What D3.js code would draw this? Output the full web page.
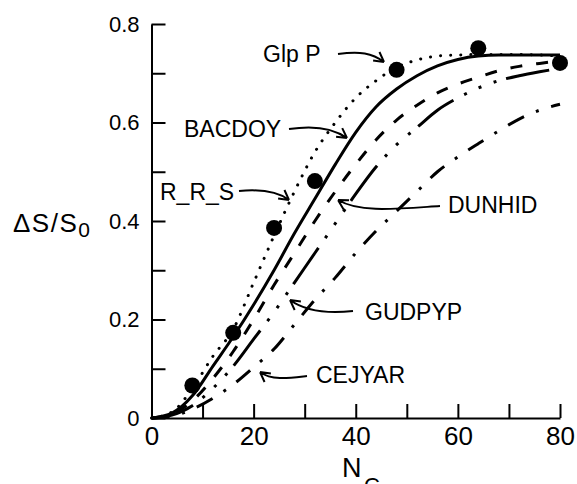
<!DOCTYPE html>
<html>
<head>
<meta charset="utf-8">
<script src="https://cdn.jsdelivr.net/npm/d3@7"></script>
<style>
  body { margin: 0; background: #fff; }
  svg { display: block; font-family: "Liberation Sans", Arial, Helvetica, sans-serif; }
  .axis path, .axis line { stroke: #000; stroke-width: 2; }
  .axis text { fill: #000; }
  .curve { fill: none; stroke: #000; stroke-width: 3; }
  .arrow { fill: none; stroke: #000; stroke-width: 2; }
  .lbl { font-size: 23px; fill: #000; }
</style>
</head>
<body>
<script>
// N_C grid shared by all model curves
var nGrid = [0, 4, 8, 12, 16, 20, 24, 28, 32, 36, 40, 44, 48, 52, 56, 60, 64, 68, 72, 76, 80];

// model curves (ΔS/S0 at each nGrid point)
var rrsVals    = [0, 0.012, 0.06, 0.125, 0.18, 0.275, 0.37, 0.46, 0.54, 0.6, 0.65, 0.685, 0.712, 0.727, 0.735, 0.737, 0.738, 0.738, 0.738, 0.737, 0.735];
var bacdoyVals = [0, 0.01, 0.045, 0.105, 0.165, 0.23, 0.3, 0.375, 0.445, 0.515, 0.58, 0.632, 0.668, 0.695, 0.715, 0.728, 0.735, 0.737, 0.737, 0.737, 0.737];
var dunhidVals = [0, 0.008, 0.035, 0.08, 0.135, 0.2, 0.27, 0.335, 0.4, 0.46, 0.515, 0.565, 0.605, 0.635, 0.66, 0.678, 0.692, 0.705, 0.714, 0.72, 0.725];
var gudpypVals = [0, 0.006, 0.025, 0.06, 0.105, 0.16, 0.215, 0.275, 0.335, 0.395, 0.455, 0.51, 0.555, 0.59, 0.625, 0.65, 0.67, 0.685, 0.695, 0.703, 0.71];
var cejyarVals = [0, 0.004, 0.018, 0.04, 0.068, 0.103, 0.14, 0.19, 0.24, 0.285, 0.335, 0.38, 0.42, 0.46, 0.5, 0.53, 0.557, 0.583, 0.607, 0.625, 0.637];

// Glp P measured points
var glpN = [8, 16, 24, 32, 48, 64, 80];
var glpVals = [0.066, 0.173, 0.386, 0.481, 0.707, 0.751, 0.721];

var xTicks = [0, 10, 20, 30, 40, 50, 60, 70, 80];
var yTicks = [0, 0.1, 0.2, 0.3, 0.4, 0.5, 0.6, 0.7, 0.8];

var W = 577, H = 484;
var svg = d3.select("body").append("svg").attr("width", W).attr("height", H);

var x = d3.scaleLinear().domain([0, 80]).range([151.5, 560]);
var y = d3.scaleLinear().domain([0, 0.8]).range([418, 24]);

// axes: ticks point inward, labels only on every other tick
svg.append("g").attr("class", "axis").attr("transform", "translate(0,418)")
  .call(d3.axisBottom(x).tickValues(xTicks).tickSizeInner(-14).tickSizeOuter(0).tickPadding(9)
    .tickFormat(function (d) { return d % 20 === 0 ? d : ""; }))
  .call(function (g) { g.selectAll("text").attr("font-size", 26).attr("font-family", null); });

svg.append("g").attr("class", "axis").attr("transform", "translate(151.5,0)")
  .call(d3.axisLeft(y).tickValues(yTicks).tickSizeInner(-14).tickSizeOuter(0).tickPadding(12)
    .tickFormat(function (d) { var k = Math.round(d * 10); return k % 2 ? "" : (k === 0 ? "0" : d3.format(".1f")(d)); }))
  .call(function (g) { g.selectAll("text").attr("font-size", 22).attr("font-family", null); });

// curves
var line = d3.line().x(function (d) { return x(d[0]); }).y(function (d) { return y(d[1]); }).curve(d3.curveMonotoneX);
function series(vals) { return nGrid.map(function (n, i) { return [n, vals[i]]; }); }

var curves = [
  { vals: cejyarVals, dash: "18 13 3 13", cap: "butt", w: 3 },
  { vals: gudpypVals, dash: "44 12 3 13 3 13 3 10", cap: "butt", w: 3 },
  { vals: dunhidVals, dash: "12 14", cap: "butt", w: 3 },
  { vals: bacdoyVals, dash: null, cap: "butt", w: 3 },
  { vals: rrsVals, dash: "0.1 10", cap: "round", w: 3.6 }
];
curves.forEach(function (c) {
  svg.append("path").attr("class", "curve").attr("d", line(series(c.vals)))
    .attr("stroke-dasharray", c.dash).attr("stroke-linecap", c.cap).attr("stroke-width", c.w);
});

// data points
svg.append("g").selectAll("circle").data(glpN).join("circle")
  .attr("cx", function (d) { return x(d); })
  .attr("cy", function (d, i) { return y(glpVals[i]); })
  .attr("r", 8).attr("fill", "#000");

// labels with curved arrows (start, control1, control2, tip)
var labels = [
  { text: "Glp P",  tx: 263, ty: 62,  a: [[338, 54], [360, 51], [372, 53], [384, 62]] },
  { text: "BACDOY", tx: 184, ty: 137, a: [[289, 129], [315, 125], [333, 128], [347, 138]] },
  { text: "R_R_S",  tx: 160, ty: 200, a: [[239, 191], [260, 189], [277, 191], [289, 200]] },
  { text: "DUNHID", tx: 448, ty: 213, a: [[440, 206], [395, 209], [360, 213], [338, 200]] },
  { text: "GUDPYP", tx: 365, ty: 320, a: [[353, 311], [325, 314], [305, 311], [290, 300]] },
  { text: "CEJYAR", tx: 316, ty: 383, a: [[307, 376], [290, 378], [272, 381], [260, 372]] }
];
labels.forEach(function (l) {
  svg.append("text").attr("class", "lbl").attr("x", l.tx).attr("y", l.ty).text(l.text);
  var p = d3.path(), a = l.a;
  p.moveTo(a[0][0], a[0][1]);
  p.bezierCurveTo(a[1][0], a[1][1], a[2][0], a[2][1], a[3][0], a[3][1]);
  var ang = Math.atan2(a[3][1] - a[2][1], a[3][0] - a[2][0]), hl = 11;
  [0.5, -0.5].forEach(function (s) {
    p.moveTo(a[3][0] - hl * Math.cos(ang + s), a[3][1] - hl * Math.sin(ang + s));
    p.lineTo(a[3][0], a[3][1]);
  });
  svg.append("path").attr("class", "arrow").attr("d", p.toString());
});

// axis titles
var yt = svg.append("text").attr("x", 13).attr("y", 232).attr("font-size", 26).attr("letter-spacing", 1.5);
yt.append("tspan").text("\u0394S/S");
yt.append("tspan").attr("dy", 5).attr("font-size", 21).attr("letter-spacing", 0).text("0");

svg.append("text").attr("x", 342).attr("y", 477).attr("font-size", 27).text("N");
svg.append("text").attr("x", 364).attr("y", 493).attr("font-size", 22).text("C");
</script>
</body>
</html>
